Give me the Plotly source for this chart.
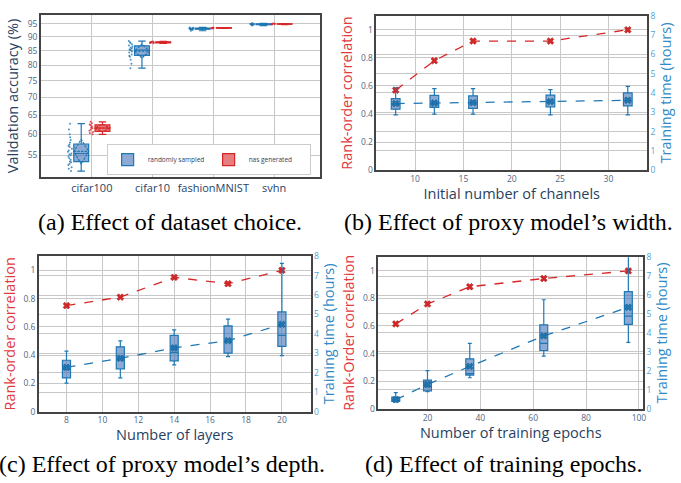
import plotly.graph_objects as go

W, H = 681, 483
def dx(a, b): return [a / W, b / W]
def dy(top, bot): return [1 - bot / H, 1 - top / H]

BLUE = '#1f77b4'
RED = '#d62728'
REDT = '#e0393e'
BLUET = '#2f8ac6'
BLUETICK = '#4f9fd6'
TICK = '#506784'
TITLE = '#2a3f5f'
GRID = '#c8c8c8'
BLUEFILL = 'rgba(45,100,175,0.55)'
REDFILL = 'rgba(214,39,40,0.6)'

# ---------------- (a) data ----------------
datasets = ['cifar100', 'cifar10', 'fashionMNIST', 'svhn']
rand_cifar100 = [51.5, 52.0, 52.3, 52.8, 53.1, 53.4, 53.6, 54.0, 54.3, 54.7, 55.0, 55.2, 55.4,
                 55.8, 56.1, 56.5, 56.9, 57.2, 57.5, 58.0, 58.6, 59.3, 60.0, 61.2, 62.7]
nas_cifar100 = [60.0, 60.3, 60.6, 60.9, 61.2, 61.5, 61.7, 62.0, 62.3, 62.5, 62.8, 63.2]
rand_cifar10 = [79.0, 80.5, 81.8, 82.8, 83.2, 83.6, 84.3, 84.7, 85.0, 85.2, 85.4, 85.7, 86.0,
                86.4, 86.8, 87.2, 87.6, 88.0, 88.4]
nas_cifar10 = [87.6, 87.7, 87.8, 87.9, 88.0, 88.0, 88.1, 88.2, 88.3]
rand_fmnist = [92.3, 92.6, 92.8, 92.9, 93.0, 93.0, 93.1, 93.1, 93.2, 93.2, 93.3, 93.4, 93.5, 93.6]
nas_fmnist = [93.2, 93.3, 93.3, 93.4, 93.4, 93.5, 93.5]
rand_svhn = [94.3, 94.5, 94.6, 94.7, 94.7, 94.8, 94.8, 94.9, 94.9, 95.0, 95.1, 95.2]
nas_svhn = [94.7, 94.8, 94.9, 94.9, 95.0, 95.0, 95.1]
acc_ticks = [55, 60, 65, 70, 75, 80, 85, 90, 95]

# ---------------- (b) data ----------------
channels = [8, 12, 16, 24, 32]
corr_b = [0.57, 0.78, 0.92, 0.92, 1.0]
b_low = [2.86, 2.9, 2.9, 2.86, 2.86]
b_q1 = [3.16, 3.25, 3.2, 3.28, 3.33]
b_med = [3.42, 3.45, 3.48, 3.52, 3.6]
b_q3 = [3.71, 3.88, 3.85, 3.89, 4.01]
b_high = [4.27, 4.22, 4.22, 4.17, 4.34]
b_mean = [3.45, 3.48, 3.5, 3.55, 3.62]

# ---------------- (c) data ----------------
layers = [8, 11, 14, 17, 20]
corr_c = [0.75, 0.81, 0.95, 0.905, 1.0]
c_low = [1.46, 1.73, 2.4, 2.83, 2.88]
c_q1 = [1.73, 2.2, 2.61, 3.01, 3.36]
c_med = [2.2, 2.7, 3.05, 3.6, 3.92]
c_q3 = [2.64, 3.33, 3.92, 4.41, 5.13]
c_high = [3.11, 3.64, 4.21, 4.76, 7.63]
c_mean = [2.27, 2.74, 3.28, 3.65, 4.49]

# ---------------- (d) data ----------------
epochs = [8, 20, 36, 64, 96]
corr_d = [0.615, 0.76, 0.885, 0.945, 1.0]
d_low = [0.35, 0.9, 1.63, 2.77, 3.5]
d_q1 = [0.38, 0.94, 1.77, 3.07, 4.45]
d_med = [0.45, 1.16, 1.85, 3.45, 4.88]
d_q3 = [0.61, 1.51, 2.63, 4.43, 6.18]
d_high = [0.85, 2.01, 3.45, 5.75, 8.3]
d_mean = [0.47, 1.28, 2.23, 3.84, 5.35]

fig = go.Figure()

# (a)
rand_groups = [rand_cifar100, rand_cifar10, rand_fmnist, rand_svhn]
nas_groups = [nas_cifar100, nas_cifar10, nas_fmnist, nas_svhn]
rx, ry, nx, ny = [], [], [], []
for name, r, n in zip(datasets, rand_groups, nas_groups):
    rx += [name] * len(r); ry += r
    nx += [name] * len(n); ny += n
common_a = dict(boxpoints='all', jitter=0.3, pointpos=-1.5, boxmean='sd',
                line=dict(width=1.2), xaxis='x', yaxis='y')
fig.add_trace(go.Box(x=rx, y=ry, name='randomly sampled', marker=dict(color=BLUE, size=2, opacity=0.8),
                     fillcolor=BLUEFILL, offsetgroup='r', **common_a))
fig.add_trace(go.Box(x=nx, y=ny, name='nas generated', marker=dict(color=RED, size=2, opacity=0.8),
                     fillcolor=REDFILL, offsetgroup='n', **common_a))

def add_panel(xs, corr, low, q1, med, q3, high, mean, width, xa, ya_l, ya_r):
    fig.add_trace(go.Scatter(x=xs, y=corr, mode='lines+markers', showlegend=False,
                             line=dict(color=RED, dash='dash', width=1.3),
                             marker=dict(symbol='x', size=6, color=RED,
                                         line=dict(width=0.5, color='#a01010')),
                             xaxis=xa, yaxis=ya_l))
    fig.add_trace(go.Box(x=xs, lowerfence=low, q1=q1, median=med, q3=q3,
                         upperfence=high, mean=mean, boxmean=True, width=width,
                         showlegend=False, marker_color=BLUE, fillcolor=BLUEFILL,
                         line=dict(width=1.2),
                         whiskerwidth=0.5, xaxis=xa, yaxis=ya_r))
    fig.add_trace(go.Scatter(x=xs, y=mean, mode='lines+markers', showlegend=False,
                             line=dict(color=BLUE, dash='dash', width=1.3),
                             marker=dict(symbol='x', size=6, color=BLUE,
                                         line=dict(width=0.5, color='#0d4f80')),
                             xaxis=xa, yaxis=ya_r))

add_panel(channels, corr_b, b_low, b_q1, b_med, b_q3, b_high, b_mean, 0.9, 'x2', 'y2', 'y3')
add_panel(layers, corr_c, c_low, c_q1, c_med, c_q3, c_high, c_mean, 0.45, 'x3', 'y4', 'y5')
add_panel(epochs, corr_d, d_low, d_q1, d_med, d_q3, d_high, d_mean, 3.0, 'x4', 'y6', 'y7')

FONT = 'Open Sans, Verdana, Arial, sans-serif'
TF = 14.5
tickf = dict(size=8.5, color=TICK, family=FONT)
axline = dict(showline=True, linecolor='#444', linewidth=1.5, mirror=True,
              showgrid=True, gridcolor=GRID, gridwidth=1, zeroline=False, ticks='')

def xax(domain, anchor, rng, title, dtick):
    return dict(domain=domain, anchor=anchor, range=rng, dtick=dtick, tickfont=tickf,
                title=dict(text=title, font=dict(size=TF, color=TITLE, family=FONT), standoff=4),
                **axline)

def yl(domain, anchor, title):
    return dict(domain=domain, anchor=anchor, range=[0, 1.1], dtick=0.2, tickfont=tickf,
                title=dict(text=title, font=dict(size=TF, color=REDT, family=FONT), standoff=5),
                **axline)

def yr(overlay, anchor):
    d = dict(axline)
    d['mirror'] = False
    return dict(overlaying=overlay, anchor=anchor, side='right', range=[0, 8], dtick=1,
                tickfont=dict(size=8.5, color=BLUETICK, family=FONT),
                title=dict(text='Training time (hours)',
                           font=dict(size=TF, color=BLUET, family=FONT), standoff=4),
                **d)

fig.update_layout(
    width=W, height=H, margin=dict(l=0, r=0, t=0, b=0),
    paper_bgcolor='white', plot_bgcolor='white',
    font=dict(family=FONT),
    boxmode='group',
    showlegend=True,
    legend=dict(orientation='h', x=312 / W, xanchor='right', y=1 - 173 / H, yanchor='bottom',
                font=dict(size=6.5, color=TITLE), bordercolor='#cccccc', borderwidth=1,
                bgcolor='white', itemwidth=30, entrywidth=56, entrywidthmode='pixels',
                tracegroupgap=0),
    xaxis=dict(domain=dx(41, 321), anchor='y', type='category', categoryorder='array',
               categoryarray=datasets, range=[-0.84, 3.75],
               tickfont=dict(size=11, color=TITLE, family=FONT), **axline),
    yaxis=dict(domain=dy(9, 175), anchor='x', type='log', range=[1.701, 1.994],
               tickvals=acc_ticks, ticktext=[str(v) for v in acc_ticks], tickfont=tickf,
               title=dict(text='Validation accuracy (%)',
                          font=dict(size=TF, color=TITLE, family=FONT), standoff=6),
               **axline),
    xaxis2=xax(dx(378, 650), 'y2', [6, 34], 'Initial number of channels', 5),
    yaxis2=yl(dy(10, 168), 'x2', 'Rank-order correlation'),
    yaxis3=yr('y2', 'x2'),
    xaxis3=xax(dx(39, 312), 'y4', [6.46, 21.6], 'Number of layers', 2),
    yaxis4=yl(dy(256, 415), 'x3', 'Rank-order correlation'),
    yaxis5=yr('y4', 'x3'),
    xaxis4=xax(dx(380, 646), 'y6', [1.4, 101.6], 'Number of training epochs', 20),
    yaxis6=yl(dy(257, 412), 'x4', 'Rank-Order correlation'),
    yaxis7=yr('y6', 'x4'),
)

captions = [("(a) Effect of dataset choice.", 171, 221),
            ("(b) Effect of proxy model\u2019s width.", 511, 221),
            ("(c) Effect of proxy model\u2019s depth.", 163, 469),
            ("(d) Effect of training epochs.", 506, 469)]
for text, cx, cy in captions:
    fig.add_annotation(text=text, x=cx / W, y=1 - cy / H, xref='paper', yref='paper',
                       showarrow=False, xanchor='center', yanchor='middle',
                       font=dict(family='Liberation Serif, Times New Roman, serif', size=24,
                                 color='black'))

fig.write_html("out.html", config={'displayModeBar': False},
               post_script="document.body.style.margin='0';")
